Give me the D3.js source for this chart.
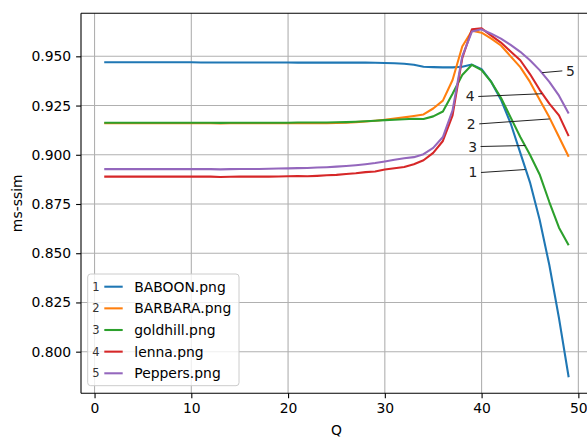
<!DOCTYPE html>
<html><head><meta charset="utf-8">
<script src="https://cdn.jsdelivr.net/npm/d3@7"></script>
<style>
html,body{margin:0;padding:0;background:#fff;}
svg{display:block;font-family:"DejaVu Sans",sans-serif;}
</style></head>
<body><div id="chart"></div>
<script>
const Q = d3.range(1, 50);
const seriesNames = ["BABOON.png","BARBARA.png","goldhill.png","lenna.png","Peppers.png"];
const seriesColors = ["#1f77b4","#ff7f0e","#2ca02c","#d62728","#9467bd"];
const baboon = [0.9470,0.9470,0.9470,0.9470,0.9470,0.9470,0.9470,0.9470,0.9470,0.9470,
  0.9469,0.9469,0.9469,0.9469,0.9469,0.9469,0.9469,0.9469,0.9469,0.9469,
  0.9468,0.9468,0.9468,0.9468,0.9468,0.9468,0.9468,0.9468,0.9467,0.9466,
  0.9465,0.9462,0.9457,0.9447,0.9445,0.9444,0.9444,0.9447,0.9458,0.9435,
  0.937,0.928,0.916,0.901,0.886,0.867,0.844,0.817,0.787];
const barbara = [0.9160,0.9160,0.9160,0.9160,0.9160,0.9160,0.9160,0.9160,0.9160,0.9160,
  0.9160,0.9160,0.9159,0.9160,0.9160,0.9160,0.9160,0.9160,0.9160,0.9160,
  0.9160,0.9160,0.9160,0.9160,0.9161,0.9163,0.9166,0.9169,0.9173,0.9178,
  0.9184,0.9190,0.9197,0.9205,0.9235,0.9275,0.938,0.955,0.963,0.962,
  0.959,0.9555,0.950,0.9445,0.937,0.928,0.919,0.909,0.899];
const goldhill = [0.9163,0.9163,0.9163,0.9163,0.9163,0.9163,0.9163,0.9163,0.9163,0.9163,
  0.9163,0.9163,0.9162,0.9163,0.9163,0.9163,0.9163,0.9163,0.9163,0.9163,
  0.9164,0.9164,0.9164,0.9164,0.9165,0.9166,0.9168,0.9170,0.9173,0.9176,
  0.9178,0.9180,0.9183,0.9182,0.9195,0.922,0.931,0.9405,0.9457,0.943,
  0.937,0.929,0.919,0.909,0.900,0.890,0.876,0.863,0.854];
const lenna = [0.8889,0.8889,0.8889,0.8889,0.8889,0.8889,0.8889,0.8889,0.8889,0.8889,
  0.8889,0.8889,0.8887,0.8888,0.8889,0.8889,0.8889,0.8889,0.8890,0.8891,
  0.8892,0.8891,0.8893,0.8896,0.8898,0.8902,0.8906,0.8912,0.8915,0.8925,
  0.8932,0.8938,0.8952,0.8972,0.901,0.907,0.920,0.949,0.9637,0.9642,
  0.9605,0.957,0.9525,0.948,0.941,0.933,0.926,0.920,0.9095];
const peppers = [0.8927,0.8927,0.8927,0.8927,0.8927,0.8927,0.8927,0.8927,0.8927,0.8927,
  0.8927,0.8927,0.8926,0.8927,0.8928,0.8928,0.8928,0.8929,0.8930,0.8931,
  0.8932,0.8933,0.8935,0.8937,0.8940,0.8943,0.8947,0.8952,0.8958,0.8966,
  0.8975,0.8982,0.8988,0.9003,0.9035,0.909,0.9225,0.950,0.9626,0.9637,
  0.9615,0.959,0.9558,0.9523,0.948,0.943,0.937,0.930,0.921];
const seriesValues = [baboon, barbara, goldhill, lenna, peppers];
const xTicks = [0,10,20,30,40,50];
const yTicks = [0.800,0.825,0.850,0.875,0.900,0.925,0.950];
// annotation labels: series number, text position (Q, value), target point (Q, value)
const annotLabel = ["5","4","2","3","1"];
const annotText = [[49.17,0.9426],[38.83,0.9296],[38.93,0.9157],[39.07,0.9042],[39.11,0.8910]];
const annotTarget = [[46.25,0.9417],[46.25,0.9310],[47.03,0.9182],[44.52,0.9047],[44.52,0.8925]];

const W = 587, H = 438;
const L = 81, T = 13.3, B = 393.3, R = 591.9;
const svg = d3.select("#chart").append("svg").attr("width", W).attr("height", H);
const x = d3.scaleLinear().domain([-1.4, 51.4]).range([L, R]);
const y = d3.scaleLinear().domain([0.77886, 0.97185]).range([B, T]);

// grid
const g = svg.append("g");
g.selectAll(".gx").data(xTicks).enter().append("line")
  .attr("x1", d=>x(d)).attr("x2", d=>x(d)).attr("y1", T).attr("y2", B)
  .attr("stroke", "#b0b0b0").attr("stroke-width", 1.1);
g.selectAll(".gy").data(yTicks).enter().append("line")
  .attr("x1", L).attr("x2", R).attr("y1", d=>y(d)).attr("y2", d=>y(d))
  .attr("stroke", "#b0b0b0").attr("stroke-width", 1.1);

// lines
const line = d3.line().x((d,i)=>x(Q[i])).y(d=>y(d));
seriesValues.forEach((vals, k) => {
  svg.append("path").datum(vals).attr("d", line)
    .attr("fill", "none").attr("stroke", seriesColors[k])
    .attr("stroke-width", 2.08).attr("stroke-linejoin", "round").attr("stroke-linecap", "butt");
});

// annotations
annotLabel.forEach((lab, i) => {
  const tx = x(annotText[i][0]), ty = y(annotText[i][1]);
  const gx = x(annotTarget[i][0]), gy = y(annotTarget[i][1]);
  const dir = gx > tx ? 1 : -1;
  svg.append("line").attr("x1", tx + dir*8).attr("y1", ty).attr("x2", gx).attr("y2", gy)
    .attr("stroke", "#222").attr("stroke-width", 1);
  svg.append("text").attr("x", tx).attr("y", ty).attr("text-anchor", "middle")
    .attr("dominant-baseline", "central").attr("font-size", 13.9).attr("fill", "#222").text(lab);
});

// axes
const xAxis = d3.axisBottom(x).tickValues(xTicks).tickSize(4.9).tickPadding(4.9).tickFormat(d3.format("d"));
const yAxis = d3.axisLeft(y).tickValues(yTicks).tickSize(4.9).tickPadding(4.9).tickFormat(d3.format(".3f"));
const gxA = svg.append("g").attr("transform", `translate(0,${B})`).call(xAxis);
const gyA = svg.append("g").attr("transform", `translate(${L},0)`).call(yAxis);
[gxA, gyA].forEach(a => {
  a.select(".domain").remove();
  a.selectAll(".tick line").attr("stroke", "#000").attr("stroke-width", 1.1);
  a.selectAll(".tick text").attr("font-size", 13.9).attr("fill", "#000").attr("font-family", "DejaVu Sans");
});
// spines
svg.append("line").attr("x1", L).attr("x2", L).attr("y1", T).attr("y2", B).attr("stroke", "#000").attr("stroke-width", 1.1);
svg.append("line").attr("x1", L).attr("x2", R).attr("y1", B).attr("y2", B).attr("stroke", "#000").attr("stroke-width", 1.1);
svg.append("line").attr("x1", L).attr("x2", R).attr("y1", T).attr("y2", T).attr("stroke", "#000").attr("stroke-width", 1.1);
svg.append("line").attr("x1", R).attr("x2", R).attr("y1", T).attr("y2", B).attr("stroke", "#000").attr("stroke-width", 1.1);

// axis labels
svg.append("text").attr("x", (L+R)/2).attr("y", 430).attr("text-anchor", "middle")
  .attr("dominant-baseline", "central").attr("font-size", 13.9).text("Q");
svg.append("text").attr("transform", `translate(17,${(T+B)/2}) rotate(-90)`).attr("text-anchor", "middle")
  .attr("dominant-baseline", "central").attr("font-size", 13.9).text("ms-ssim");

// legend
const lg = svg.append("g");
lg.append("rect").attr("x", 87.7).attr("y", 274).attr("width", 151.3).attr("height", 111.7)
  .attr("rx", 3).attr("fill", "#fff").attr("fill-opacity", 0.8).attr("stroke", "#cccccc").attr("stroke-width", 1);
seriesNames.forEach((name, k) => {
  const ry = 286.7 + k*21.65;
  lg.append("text").attr("x", 96).attr("y", ry).attr("text-anchor", "middle")
    .attr("dominant-baseline", "central").attr("font-size", 11.5).attr("fill", "#333").text(String(k+1));
  lg.append("line").attr("x1", 104.3).attr("x2", 122.7).attr("y1", ry).attr("y2", ry)
    .attr("stroke", seriesColors[k]).attr("stroke-width", 2.08);
  lg.append("text").attr("x", 134.3).attr("y", ry).attr("dominant-baseline", "central")
    .attr("font-size", 13.9).attr("fill", "#000").text(name);
});
</script></body></html>
